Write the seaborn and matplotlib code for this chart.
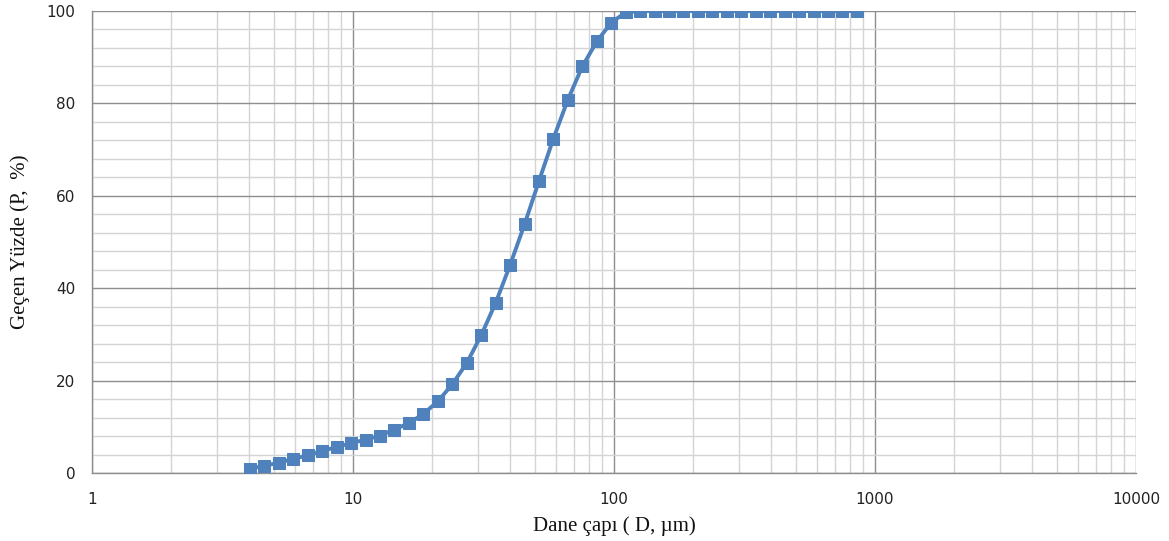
import matplotlib
matplotlib.use("Agg")
import matplotlib.pyplot as plt
import seaborn as sns
import pandas as pd
from matplotlib.ticker import FixedLocator, NullFormatter, FuncFormatter

# Data
particle_size_um = [4.03, 4.58, 5.20, 5.91, 6.71, 7.62, 8.66, 9.84, 11.18, 12.70,
                    14.42, 16.38, 18.61, 21.14, 24.01, 27.28, 30.98, 35.19, 39.98, 45.41,
                    51.58, 58.61, 66.57, 75.62, 85.90, 97.59, 110.9, 125.9, 143.0, 162.5,
                    184.6, 209.7, 238.2, 270.6, 307.4, 349.1, 396.7, 450.6, 511.9, 581.4,
                    660.6, 750.4, 852.3]
passing_pct = [0.9, 1.6, 2.2, 3.1, 3.8, 4.8, 5.6, 6.5, 7.2, 8.1,
               9.4, 10.8, 12.8, 15.5, 19.2, 23.8, 29.8, 36.8, 45.0, 53.8,
               63.2, 72.4, 80.8, 88.0, 93.4, 97.5, 99.7, 100.0, 100.0, 100.0,
               100.0, 100.0, 100.0, 100.0, 100.0, 100.0, 100.0, 100.0, 100.0, 100.0,
               100.0, 100.0, 100.0]
x_ticks = [1, 10, 100, 1000, 10000]
y_ticks = [0, 20, 40, 60, 80, 100]
x_label = "Dane çapı ( D, µm)"
y_label = "Geçen Yüzde (P,  %)"

df = pd.DataFrame({"D": particle_size_um, "P": passing_pct})

sns.set_theme(style="white")
plt.rcParams['font.family'] = ['DejaVu Sans']

fig = plt.figure(figsize=(11.69, 5.41), dpi=100)
ax = fig.add_axes([92/1169, 68/541, (1136-92)/1169, (473-11)/541])

sns.lineplot(data=df, x="D", y="P", ax=ax, color="#4F81BD", linewidth=2.8,
             marker="s", markersize=8, markeredgecolor="#4F81BD", zorder=5)

ax.set_xscale("log")
ax.set_xlim(1, 10000)
ax.set_ylim(0, 100)

minor_x = [m * 10**e for e in range(0, 4) for m in range(2, 10)]
ax.xaxis.set_major_locator(FixedLocator(x_ticks))
ax.xaxis.set_minor_locator(FixedLocator(minor_x))
ax.xaxis.set_major_formatter(FuncFormatter(lambda v, p: f"{int(round(v))}"))
ax.xaxis.set_minor_formatter(NullFormatter())
ax.yaxis.set_major_locator(FixedLocator(y_ticks))
ax.yaxis.set_minor_locator(FixedLocator([v for v in range(0, 101, 4) if v % 20 != 0]))

ax.grid(which="major", color="#8E8E8E", linewidth=1.0)
ax.grid(which="minor", color="#D4D4D4", linewidth=1.0)
ax.set_axisbelow(True)

for s in ["top", "right"]:
    ax.spines[s].set_visible(False)
for s in ["left", "bottom"]:
    ax.spines[s].set_color("#8E8E8E")
    ax.spines[s].set_linewidth(1.0)

ax.tick_params(axis="both", which="major", direction="out", length=6, width=1,
               color="#8E8E8E", labelsize=11, labelcolor="#222222", pad=6)
ax.tick_params(axis="both", which="minor", length=0)
ax.tick_params(axis="x", which="major", pad=8)

ax.set_xlabel(x_label, fontsize=15, family=["Liberation Serif", "DejaVu Serif"],
              color="#111111", labelpad=6)
ax.set_ylabel(y_label, fontsize=15, family=["Liberation Serif", "DejaVu Serif"],
              color="#111111", labelpad=12)

fig.savefig("out.png", dpi=100)
